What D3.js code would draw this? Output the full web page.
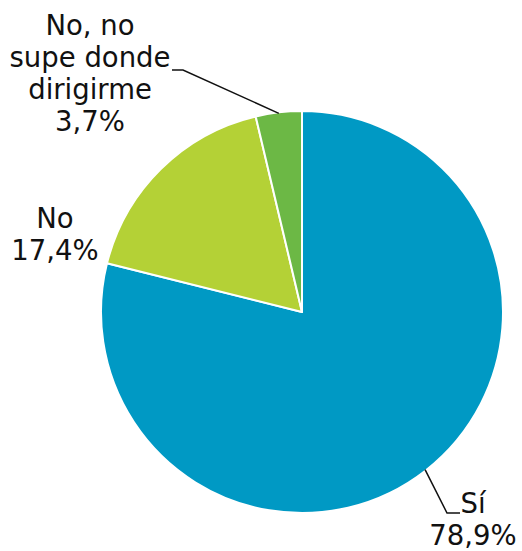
<!DOCTYPE html>
<html>
<head>
<meta charset="utf-8">
<script src="https://cdn.jsdelivr.net/npm/d3@7"></script>
<style>
  html, body { margin: 0; padding: 0; background: #fff; }
  svg text { font-family: "DejaVu Sans", Verdana, sans-serif; fill: #111; }
</style>
</head>
<body>
<svg id="chart" width="522" height="551"></svg>
<script>
// Survey answers, share of respondents (%)
const categories = ["Sí", "No", "No, no supe donde dirigirme"];
const values = [78.9, 17.4, 3.7];
const valueLabels = ["78,9%", "17,4%", "3,7%"];
const labelLines = [["Sí"], ["No"], ["No, no", "supe donde", "dirigirme"]];
const colors = ["#0099c4", "#b4d136", "#6cb845"];

const svg = d3.select("#chart");
const cx = 302, cy = 312, radius = 201;
const fontSize = 27.5, lineGap = 32;

const data = categories.map((c, i) => ({ name: c, value: values[i], label: valueLabels[i], lines: labelLines[i], color: colors[i] }));

const pie = d3.pie().value(d => d.value).sort(null);
const arc = d3.arc().innerRadius(0).outerRadius(radius);
const arcs = pie(data);

const g = svg.append("g").attr("transform", `translate(${cx},${cy})`);

g.selectAll("path.slice")
  .data(arcs)
  .enter().append("path")
  .attr("class", "slice")
  .attr("d", arc)
  .attr("fill", d => d.data.color)
  .attr("stroke", "#fff")
  .attr("stroke-width", 2)
  .attr("stroke-linejoin", "round");

// point on the rim at the middle of a slice
function rimPoint(a, r) {
  const ang = (a.startAngle + a.endAngle) / 2;
  return [r * Math.sin(ang), -r * Math.cos(ang)];
}

// label placement (first baseline, relative to the pie centre) and leader elbows
const labelLayout = [
  { x: 171, y: 201, elbow: [145, 201], end: [158, 201] },      // Sí
  { x: -247, y: -84, elbow: null, end: null },                 // No
  { x: -212, y: -277, elbow: [-119, -242], end: [-130, -242] } // No, no supe...
];

arcs.forEach((a, i) => {
  const L = labelLayout[i];
  if (L.elbow) {
    const p = rimPoint(a, radius - 1);
    g.append("path")
      .attr("d", d3.line()([p, L.elbow, L.end]))
      .attr("fill", "none")
      .attr("stroke", "#111")
      .attr("stroke-width", 1.5);
  }
  const lines = a.data.lines.concat([a.data.label]);
  g.append("text")
    .attr("text-anchor", "middle")
    .attr("font-size", fontSize)
    .selectAll("tspan")
    .data(lines)
    .enter().append("tspan")
    .attr("x", L.x)
    .attr("y", (d, k) => L.y + k * lineGap)
    .text(d => d);
});
</script>
</body>
</html>
